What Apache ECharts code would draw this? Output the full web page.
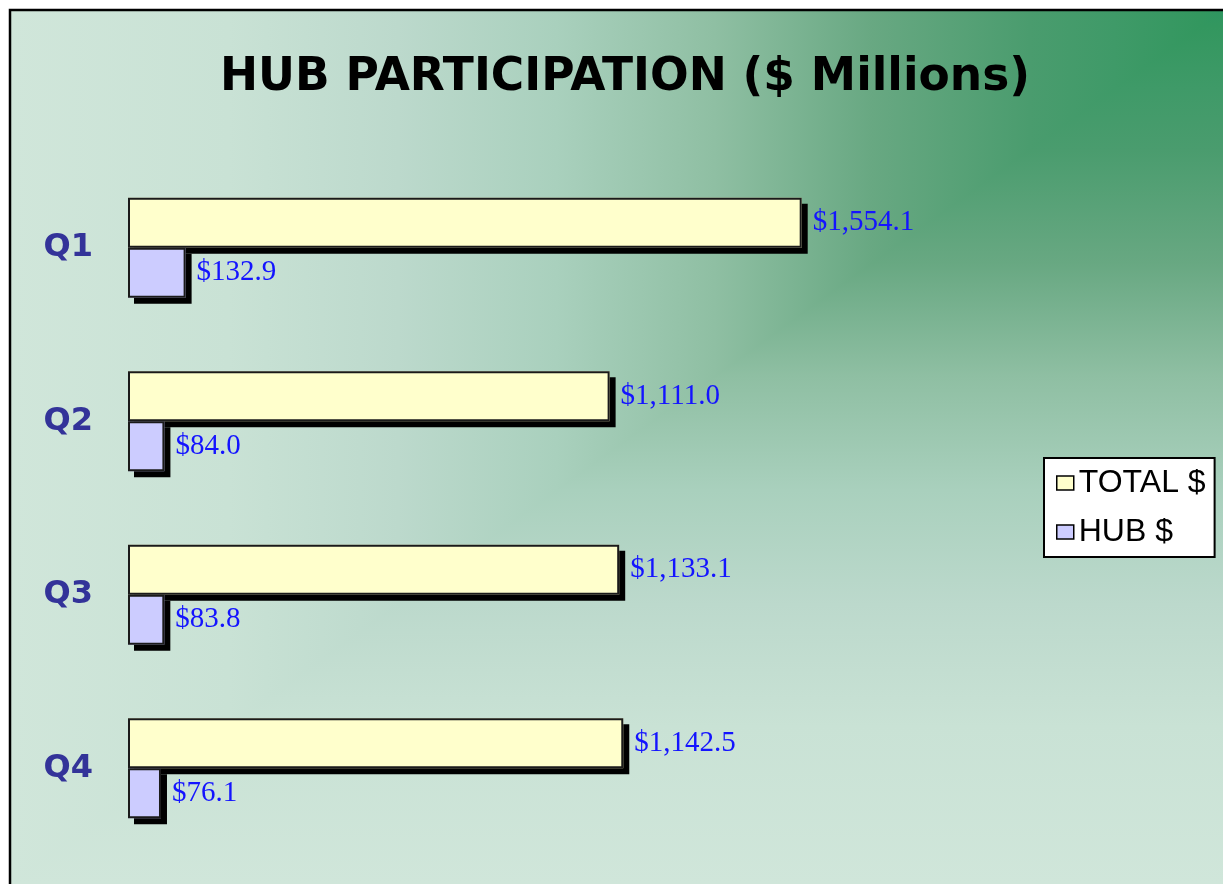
<!DOCTYPE html>
<html>
<head>
<meta charset="utf-8">
<title>HUB PARTICIPATION</title>
<script src="https://cdn.jsdelivr.net/npm/echarts/dist/echarts.min.js"></script>
<style>
  html, body { margin: 0; padding: 0; background: #fff; }
  #chart { width: 1223px; height: 884px; }
</style>
</head>
<body>
<div id="chart"></div>
<script>
// 数据
var quarters = ['Q1', 'Q2', 'Q3', 'Q4'];
var totalDollars = [1554.1, 1111.0, 1133.1, 1142.5];
var hubDollars = [132.9, 84.0, 83.8, 76.1];
var seriesNames = ['TOTAL $', 'HUB $'];
var seriesColors = ['#ffffcc', '#ccccff'];

function money(v) {
  return '$' + v.toLocaleString('en-US', { minimumFractionDigits: 1, maximumFractionDigits: 1 });
}

var myChart = echarts.init(document.getElementById('chart'));

// green fade out of the top-right corner (square "from corner" style)
var fade = [
  { offset: 0, color: '#2e9660' },
  { offset: 0.02, color: '#33975f' },
  { offset: 0.09, color: '#3f9a68' },
  { offset: 0.16, color: '#4a9c6e' },
  { offset: 0.29, color: '#68a882' },
  { offset: 0.42, color: '#8fbfa3' },
  { offset: 0.55, color: '#a9d0bd' },
  { offset: 0.68, color: '#bcd9cc' },
  { offset: 0.82, color: '#c9e2d5' },
  { offset: 1, color: '#d0e6da' }
];
var L = 10, T = 10, R = 1224, B = 884;

// shadow layer (fill only, hard black drop shadow) + outline layer on a twin axis
function shadowSeries(i, data) {
  return {
    name: seriesNames[i],
    type: 'bar',
    yAxisIndex: 0,
    data: data,
    barWidth: 50,
    barGap: '0%',
    itemStyle: {
      color: seriesColors[i],
      borderWidth: 0,
      shadowColor: '#000',
      shadowBlur: 0,
      shadowOffsetX: 6,
      shadowOffsetY: 6
    }
  };
}
function outlineSeries(i, data) {
  return {
    name: seriesNames[i],
    type: 'bar',
    yAxisIndex: 1,
    data: data,
    barWidth: 50,
    barGap: '0%',
    itemStyle: {
      color: seriesColors[i],
      borderColor: '#1a1a1a',
      borderWidth: 2
    },
    label: {
      show: true,
      position: 'right',
      distance: 11,
      color: '#1414ff',
      fontFamily: 'Liberation Serif',
      fontSize: 29,
      formatter: function (p) { return money(p.value); }
    }
  };
}

var option = {
  animation: false,
  title: {
    text: 'HUB PARTICIPATION ($ Millions)',
    left: 620,
    top: 50,
    textAlign: 'center',
    textStyle: {
      fontFamily: 'DejaVu Sans',
      fontWeight: 'bold',
      fontSize: 45.5,
      color: '#000'
    }
  },
  graphic: [
    {
      type: 'rect',
      z: -10,
      shape: { x: L, y: T, width: R - L, height: B - T },
      style: { fill: { type: 'linear', x: 0, y: 0, x2: 0, y2: 1, colorStops: fade } }
    },
    {
      type: 'polygon',
      z: -9,
      shape: { points: [[L, T], [R, T], [L, B]] },
      style: { fill: { type: 'linear', x: 1, y: 0, x2: 0, y2: 0, colorStops: fade } }
    },
    {
      type: 'rect',
      z: -8,
      shape: { x: L, y: T, width: 1240, height: 900 },
      style: { fill: 'none', stroke: '#000', lineWidth: 2.5 }
    }
  ],
  legend: {
    data: seriesNames,
    orient: 'vertical',
    left: 1044,
    top: 458,
    padding: [9, 9, 9, 12],
    itemGap: 17,
    itemWidth: 17,
    itemHeight: 14,
    icon: 'rect',
    backgroundColor: '#fff',
    borderColor: '#000',
    borderWidth: 2,
    itemStyle: {
      borderColor: '#000',
      borderWidth: 1.5,
      shadowColor: 'rgba(0,0,0,0)',
      shadowOffsetX: 0,
      shadowOffsetY: 0
    },
    textStyle: {
      fontFamily: 'Liberation Sans',
      fontSize: 32,
      color: '#000'
    }
  },
  grid: {
    left: 128,
    right: 228,
    top: 161,
    bottom: 29
  },
  xAxis: {
    type: 'value',
    min: 0,
    max: 2000,
    show: false
  },
  yAxis: [
    {
      type: 'category',
      data: quarters,
      inverse: true,
      axisLine: { show: false },
      axisTick: { show: false },
      splitLine: { show: false },
      axisLabel: {
        margin: 35,
        fontFamily: 'DejaVu Sans',
        fontWeight: 'bold',
        fontSize: 32,
        color: '#333399'
      }
    },
    {
      type: 'category',
      data: quarters,
      inverse: true,
      show: false
    }
  ],
  series: [
    shadowSeries(0, totalDollars),
    shadowSeries(1, hubDollars),
    outlineSeries(0, totalDollars),
    outlineSeries(1, hubDollars)
  ]
};

myChart.setOption(option);
</script>
</body>
</html>
